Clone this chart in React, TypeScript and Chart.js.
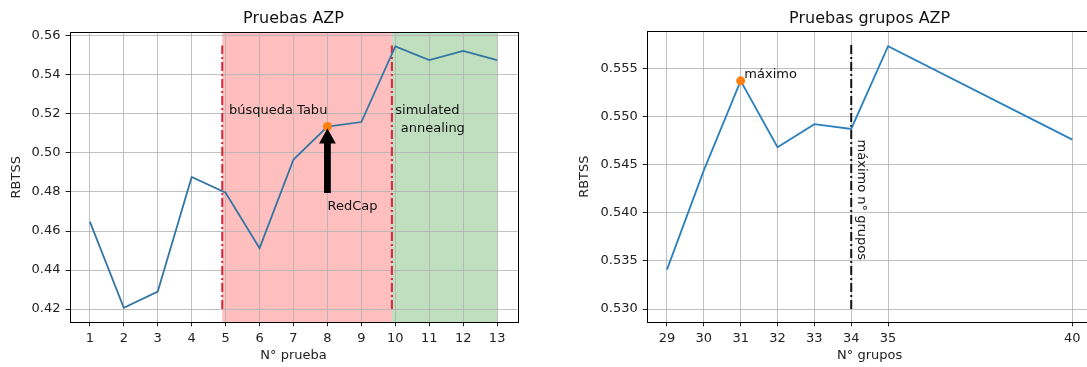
import React, { useEffect, useRef } from "react";
import { Chart, registerables } from "chart.js";

Chart.register(...registerables);

const FONT = "'DejaVu Sans', 'Liberation Sans', sans-serif";

// ---------- Left chart: Pruebas AZP ----------
const pruebaX = [1, 2, 3, 4, 5, 6, 7, 8, 9, 10, 11, 12, 13];
const pruebaRBTSS = [0.4648, 0.4207, 0.4290, 0.4877, 0.4796, 0.4512, 0.4966, 0.5135, 0.5158, 0.5545, 0.5475, 0.5522, 0.5475];
const pruebaXTicks = [1, 2, 3, 4, 5, 6, 7, 8, 9, 10, 11, 12, 13];
const pruebaYTicks = [0.42, 0.44, 0.46, 0.48, 0.5, 0.52, 0.54, 0.56];
const pruebaXRange = [0.4, 13.6];
const pruebaYRange = [0.41325, 0.56175];
const tabuSpan = [4.9, 9.9];
const annealingSpan = [9.9, 13.0];
const pruebaVLinesX = [4.9, 9.9];
const pruebaVLinesY = [0.42, 0.555];
const redcapPoint = { x: 8, y: 0.5135 };
const redcapArrow = { x: 8, tailY: 0.4795, tipY: 0.5125 };
const pruebaLabels = [
  { text: "búsqueda Tabu", x: 5.1, y: 0.52 },
  { text: "simulated", x: 10.0, y: 0.52 },
  { text: "annealing", x: 10.16, y: 0.5107 },
  { text: "RedCap", x: 8.0, y: 0.4705 },
];

// ---------- Right chart: Pruebas grupos AZP ----------
const gruposX = [29, 30, 31, 32, 33, 34, 35, 40];
const gruposRBTSS = [0.5341, 0.5444, 0.5537, 0.5468, 0.5492, 0.5487, 0.5573, 0.5476];
const gruposXTicks = [29, 30, 31, 32, 33, 34, 35, 40];
const gruposYTicks = [0.53, 0.535, 0.54, 0.545, 0.55, 0.555];
const gruposXRange = [28.45, 40.55];
const gruposYRange = [0.528625, 0.558875];
const maximoPoint = { x: 31, y: 0.5537 };
const maxGruposLine = { x: 34, y0: 0.53, y1: 0.5575 };
const maximoLabel = { text: "máximo", x: 31.1, y: 0.554 };
const maxGruposLabel = { text: "máximo n° grupos", x: 34.28, y: 0.5476 };

const tickFont = { family: FONT, size: 13 };

function makeTitlePlugin(text: string, baselineY: number) {
  return {
    id: "customTitle",
    afterDraw(chart: any) {
      const { ctx, chartArea } = chart;
      ctx.save();
      ctx.font = `16px ${FONT}`;
      ctx.fillStyle = "#111";
      ctx.textAlign = "center";
      ctx.textBaseline = "alphabetic";
      ctx.fillText(text, (chartArea.left + chartArea.right) / 2, baselineY);
      ctx.restore();
    },
  };
}

const framePlugin = {
  id: "frame",
  afterDatasetsDraw(chart: any) {
    const { ctx, chartArea } = chart;
    ctx.save();
    ctx.strokeStyle = "#000";
    ctx.lineWidth = 1;
    ctx.strokeRect(
      Math.round(chartArea.left) + 0.5,
      Math.round(chartArea.top) + 0.5,
      Math.round(chartArea.right - chartArea.left),
      Math.round(chartArea.bottom - chartArea.top)
    );
    ctx.restore();
  },
};

function scaleOpts(
  range: number[],
  ticks: number[],
  fmt: (v: number) => string,
  title: string,
  isX: boolean,
  fitSize: number
) {
  return {
    type: "linear",
    min: range[0],
    max: range[1],
    afterBuildTicks: (s: any) => {
      s.ticks = ticks.map((v) => ({ value: v }));
    },
    afterFit: (s: any) => {
      if (isX) s.height = fitSize;
      else s.width = fitSize;
    },
    ticks: {
      autoSkip: false,
      maxRotation: 0,
      minRotation: 0,
      padding: 5,
      color: "#222",
      font: tickFont,
      callback: (v: any) => fmt(Number(v)),
    },
    grid: {
      color: "#b0b0b0",
      lineWidth: 0.8,
      drawTicks: true,
      tickLength: 4,
      tickColor: "#222",
      tickWidth: 1,
    },
    border: { display: false },
    title: {
      display: true,
      text: title,
      color: "#222",
      font: tickFont,
      padding: isX ? { top: 0, bottom: 3.7 } : { top: 9.2, bottom: 0 },
    },
  };
}

export default function App() {
  const leftRef = useRef<HTMLCanvasElement>(null);
  const rightRef = useRef<HTMLCanvasElement>(null);

  useEffect(() => {
    const leftBg = {
      id: "spans",
      beforeDraw(chart: any) {
        const { ctx, chartArea, scales } = chart;
        const xs = scales.x;
        ctx.save();
        const spans: [number[], string][] = [
          [tabuSpan, "rgba(255,0,0,0.25)"],
          [annealingSpan, "rgba(0,128,0,0.25)"],
        ];
        for (const [sp, col] of spans) {
          const a = xs.getPixelForValue(sp[0]);
          const b = xs.getPixelForValue(sp[1]);
          ctx.fillStyle = col;
          ctx.fillRect(a, chartArea.top, b - a, chartArea.bottom - chartArea.top);
        }
        ctx.restore();
      },
    };
    const leftAnno = {
      id: "leftAnno",
      beforeDatasetsDraw(chart: any) {
        const { ctx, scales } = chart;
        const xs = scales.x;
        const ys = scales.y;
        ctx.save();
        ctx.strokeStyle = "rgb(222,38,58)";
        ctx.lineWidth = 2;
        ctx.setLineDash([9, 3, 2, 3]);
        for (const vx of pruebaVLinesX) {
          const px = xs.getPixelForValue(vx);
          ctx.beginPath();
          ctx.moveTo(px, ys.getPixelForValue(pruebaVLinesY[0]));
          ctx.lineTo(px, ys.getPixelForValue(pruebaVLinesY[1]));
          ctx.stroke();
        }
        ctx.restore();
      },
      afterDatasetsDraw(chart: any) {
        const { ctx, scales } = chart;
        const xs = scales.x;
        const ys = scales.y;
        ctx.save();
        // arrow
        const x = xs.getPixelForValue(redcapArrow.x);
        const y0 = ys.getPixelForValue(redcapArrow.tailY);
        const y1 = ys.getPixelForValue(redcapArrow.tipY);
        const sh = 3.4, hh = 8.4, hl = 15;
        ctx.fillStyle = "#000";
        ctx.beginPath();
        ctx.moveTo(x - sh, y0);
        ctx.lineTo(x - sh, y1 + hl);
        ctx.lineTo(x - hh, y1 + hl);
        ctx.lineTo(x, y1);
        ctx.lineTo(x + hh, y1 + hl);
        ctx.lineTo(x + sh, y1 + hl);
        ctx.lineTo(x + sh, y0);
        ctx.closePath();
        ctx.fill();
        // texts
        ctx.font = `13px ${FONT}`;
        ctx.fillStyle = "#111";
        ctx.textAlign = "left";
        ctx.textBaseline = "alphabetic";
        for (const l of pruebaLabels) {
          ctx.fillText(l.text, xs.getPixelForValue(l.x), ys.getPixelForValue(l.y));
        }
        ctx.restore();
      },
    };

    const left = new Chart(leftRef.current as HTMLCanvasElement, {
      type: "line",
      data: {
        datasets: [
          {
            type: "scatter",
            data: [redcapPoint],
            pointRadius: 4.5,
            pointBackgroundColor: "#ff7f0e",
            pointBorderWidth: 0,
            showLine: false,
            order: 0,
          } as any,
          {
            type: "line",
            data: pruebaX.map((x, i) => ({ x, y: pruebaRBTSS[i] })),
            borderColor: "#3476a3",
            borderWidth: 1.8,
            pointRadius: 0,
            tension: 0,
            fill: false,
            order: 1,
          },
        ],
      },
      options: {
        responsive: false,
        animation: false,
        events: [],
        layout: { padding: { left: 0, top: 32.3, right: 50.5, bottom: 0 } },
        plugins: { legend: { display: false }, tooltip: { enabled: false }, title: { display: false } },
        scales: {
          x: scaleOpts(pruebaXRange, pruebaXTicks, (v) => String(v), "N° prueba", true, 44.7) as any,
          y: scaleOpts(pruebaYRange, pruebaYTicks, (v) => v.toFixed(2), "RBTSS", false, 69.5) as any,
        },
      },
      plugins: [leftBg, leftAnno, framePlugin, makeTitlePlugin("Pruebas AZP", 23)],
    });

    const rightAnno = {
      id: "rightAnno",
      beforeDatasetsDraw(chart: any) {
        const { ctx, scales } = chart;
        const xs = scales.x;
        const ys = scales.y;
        ctx.save();
        ctx.strokeStyle = "#111";
        ctx.lineWidth = 2;
        ctx.setLineDash([9, 3, 2, 3]);
        const px = xs.getPixelForValue(maxGruposLine.x);
        ctx.beginPath();
        ctx.moveTo(px, ys.getPixelForValue(maxGruposLine.y0));
        ctx.lineTo(px, ys.getPixelForValue(maxGruposLine.y1));
        ctx.stroke();
        ctx.restore();
      },
      afterDatasetsDraw(chart: any) {
        const { ctx, scales } = chart;
        const xs = scales.x;
        const ys = scales.y;
        ctx.save();
        ctx.font = `13px ${FONT}`;
        ctx.fillStyle = "#111";
        ctx.textAlign = "left";
        ctx.textBaseline = "alphabetic";
        ctx.fillText(maximoLabel.text, xs.getPixelForValue(maximoLabel.x), ys.getPixelForValue(maximoLabel.y));
        ctx.translate(xs.getPixelForValue(maxGruposLabel.x), ys.getPixelForValue(maxGruposLabel.y));
        ctx.rotate(Math.PI / 2);
        ctx.textBaseline = "middle";
        ctx.fillText(maxGruposLabel.text, 0, 0);
        ctx.restore();
      },
    };

    const right = new Chart(rightRef.current as HTMLCanvasElement, {
      type: "line",
      data: {
        datasets: [
          {
            type: "scatter",
            data: [maximoPoint],
            pointRadius: 4.5,
            pointBackgroundColor: "#ff7f0e",
            pointBorderWidth: 0,
            showLine: false,
            order: 0,
          } as any,
          {
            type: "line",
            data: gruposX.map((x, i) => ({ x, y: gruposRBTSS[i] })),
            borderColor: "#2a7fbd",
            borderWidth: 1.8,
            pointRadius: 0,
            tension: 0,
            fill: false,
            order: 1,
          },
        ],
      },
      options: {
        responsive: false,
        animation: false,
        events: [],
        layout: { padding: { left: 0, top: 31, right: 15.4, bottom: 0 } },
        plugins: { legend: { display: false }, tooltip: { enabled: false }, title: { display: false } },
        scales: {
          x: scaleOpts(gruposXRange, gruposXTicks, (v) => String(v), "N° grupos", true, 44.7) as any,
          y: scaleOpts(gruposYRange, gruposYTicks, (v) => v.toFixed(3), "RBTSS", false, 78.7) as any,
        },
      },
      plugins: [rightAnno, framePlugin, makeTitlePlugin("Pruebas grupos AZP", 23)],
    });

    return () => {
      left.destroy();
      right.destroy();
    };
  }, []);

  return (
    <div
      style={{
        position: "fixed",
        left: 0,
        top: 0,
        width: 1087,
        height: 367,
        overflow: "hidden",
        background: "#fff",
      }}
    >
      <canvas ref={leftRef} width={568} height={367} style={{ position: "absolute", left: 0, top: 0 }} />
      <canvas ref={rightRef} width={540} height={367} style={{ position: "absolute", left: 568, top: 0 }} />
    </div>
  );
}
